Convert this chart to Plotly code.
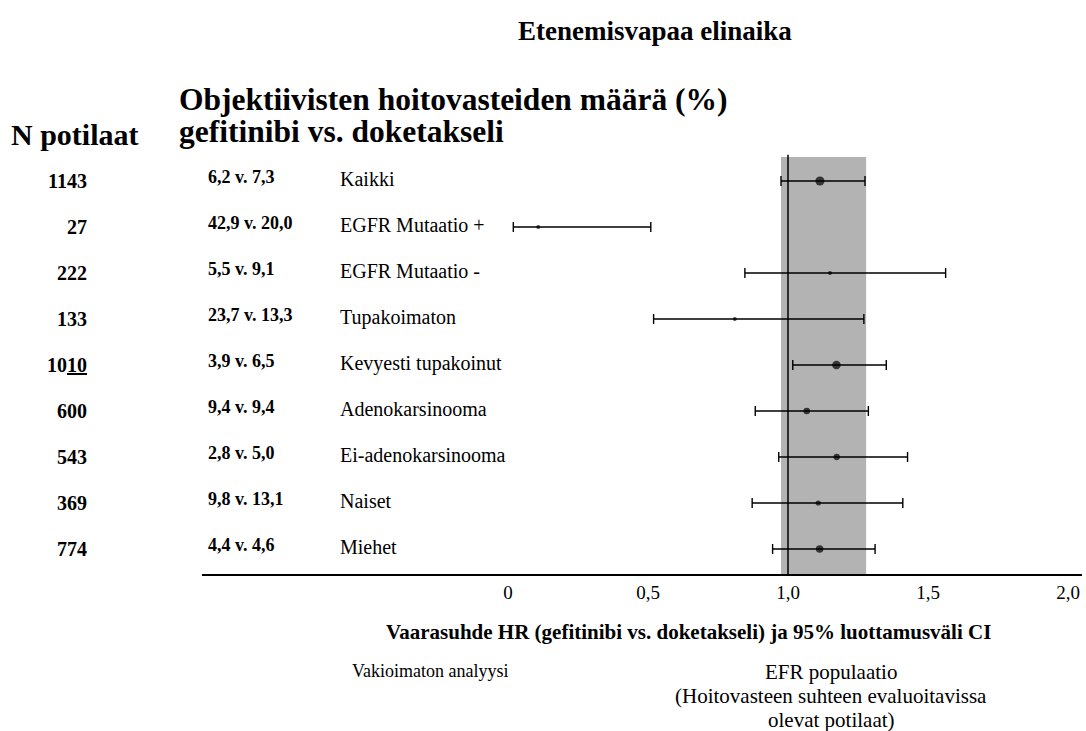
import plotly.graph_objects as go

# ---- data ----
n_patients = ["1143", "27", "222", "133", "10<u>10</u>", "600", "543", "369", "774"]
n_values = [1143, 27, 222, 133, 1010, 600, 543, 369, 774]
response_rates = ["6,2 v. 7,3", "42,9 v. 20,0", "5,5 v. 9,1", "23,7 v. 13,3",
                  "3,9 v. 6,5", "9,4 v. 9,4", "2,8 v. 5,0", "9,8 v. 13,1", "4,4 v. 4,6"]
subgroups = ["Kaikki", "EGFR Mutaatio +", "EGFR Mutaatio -", "Tupakoimaton",
             "Kevyesti tupakoinut", "Adenokarsinooma", "Ei-adenokarsinooma",
             "Naiset", "Miehet"]
hr = [1.114, 0.108, 1.150, 0.810, 1.173, 1.067, 1.174, 1.108, 1.113]
ci_low = [0.975, 0.019, 0.846, 0.520, 1.017, 0.883, 0.967, 0.872, 0.945]
ci_high = [1.275, 0.510, 1.563, 1.271, 1.351, 1.287, 1.427, 1.410, 1.311]
tick_vals = [0, 0.5, 1.0, 1.5, 2.0]
tick_text = ["0", "0,5", "1,0", "1,5", "2,0"]
band = (0.975, 1.279)
efr_lines = ["EFR populaatio", "(Hoitovasteen suhteen evaluoitavissa", "olevat potilaat)"]

W, H = 1086, 731
ML, MR, MT, MB = 202, 4, 150, 157
PW = W - ML - MR

def px2paper(px):
    return (px - ML) / PW

def yp(px):
    return (H - MB - px) / (H - MT - MB)

rows = list(range(len(subgroups)))
serif = "Liberation Serif, Times New Roman, serif"

fig = go.Figure()

sizes = [max(4.0, 0.27 * v ** 0.5) for v in n_values]
fig.add_trace(go.Scatter(
    x=hr, y=rows, mode="markers",
    marker=dict(color="black", size=sizes, line=dict(width=0)),
    error_x=dict(type="data", symmetric=False,
                 array=[h - m for h, m in zip(ci_high, hr)],
                 arrayminus=[m - l for m, l in zip(hr, ci_low)],
                 color="black", thickness=1.4, width=5),
    showlegend=False, hoverinfo="skip"))

# shaded band and reference line
fig.add_shape(type="rect", x0=band[0], x1=band[1], y0=-0.52, y1=8.6,
              xref="x", yref="y", fillcolor="#b3b3b3", line=dict(width=0),
              layer="below")
fig.add_shape(type="line", x0=1.0, x1=1.0, y0=-0.57, y1=8.6,
              xref="x", yref="y", line=dict(color="black", width=1.5))

ann = []
for i in rows:
    ann.append(dict(x=px2paper(89), y=i, xref="paper", yref="y", text="<b>%s</b>" % n_patients[i],
                    showarrow=False, xanchor="right", yanchor="middle",
                    font=dict(family=serif, size=20, color="black")))
    ann.append(dict(x=px2paper(206), y=i - 0.08, xref="paper", yref="y", text="<b>%s</b>" % response_rates[i],
                    showarrow=False, xanchor="left", yanchor="middle",
                    font=dict(family=serif, size=18, color="black")))
    ann.append(dict(x=px2paper(338), y=i - 0.04, xref="paper", yref="y", text=subgroups[i],
                    showarrow=False, xanchor="left", yanchor="middle",
                    font=dict(family=serif, size=20, color="black")))

extra = [
    dict(x=px2paper(655), y=yp(31), text="<b>Etenemisvapaa elinaika</b>", xanchor="center",
         font=dict(family=serif, size=27, color="black")),
    dict(x=px2paper(177), y=yp(99), text="<b>Objektiivisten hoitovasteiden määrä (%)</b>", xanchor="left",
         font=dict(family=serif, size=31.5, color="black")),
    dict(x=px2paper(177), y=yp(131), text="<b>gefitinibi vs. doketakseli</b>", xanchor="left",
         font=dict(family=serif, size=31.5, color="black")),
    dict(x=px2paper(9), y=yp(134), text="<b>N potilaat</b>", xanchor="left",
         font=dict(family=serif, size=30, color="black")),
    dict(x=px2paper(688), y=yp(632), text="<b>Vaarasuhde HR (gefitinibi vs. doketakseli) ja 95% luottamusväli CI</b>",
         xanchor="center", font=dict(family=serif, size=21, color="black")),
    dict(x=px2paper(430), y=yp(671), text="Vakioimaton analyysi", xanchor="center",
         font=dict(family=serif, size=18, color="black")),
]
for k, line in enumerate(efr_lines):
    extra.append(dict(x=px2paper(831), y=yp(672 + 24 * k), text=line, xanchor="center",
                      font=dict(family=serif, size=21, color="black")))
for a in extra:
    a.update(xref="paper", yref="paper", showarrow=False, yanchor="middle")
fig.update_layout(annotations=ann + extra)

fig.update_layout(
    width=W, height=H,
    margin=dict(l=ML, r=MR, t=MT, b=MB),
    paper_bgcolor="white", plot_bgcolor="white",
    xaxis=dict(range=[(ML - 508) / 280, (W - MR - 508) / 280],
               tickvals=tick_vals, ticktext=tick_text,
               showgrid=False, zeroline=False,
               showline=True, linecolor="black", linewidth=1.5,
               ticks="", tickfont=dict(family=serif, size=19, color="black")),
    yaxis=dict(range=[(H - MB - 181) / 46, (MT - 181) / 46],
               showgrid=False, zeroline=False, showticklabels=False, showline=False),
)

fig.write_html("out.html", config={"displayModeBar": False},
               post_script="document.body.style.margin='0px';")
